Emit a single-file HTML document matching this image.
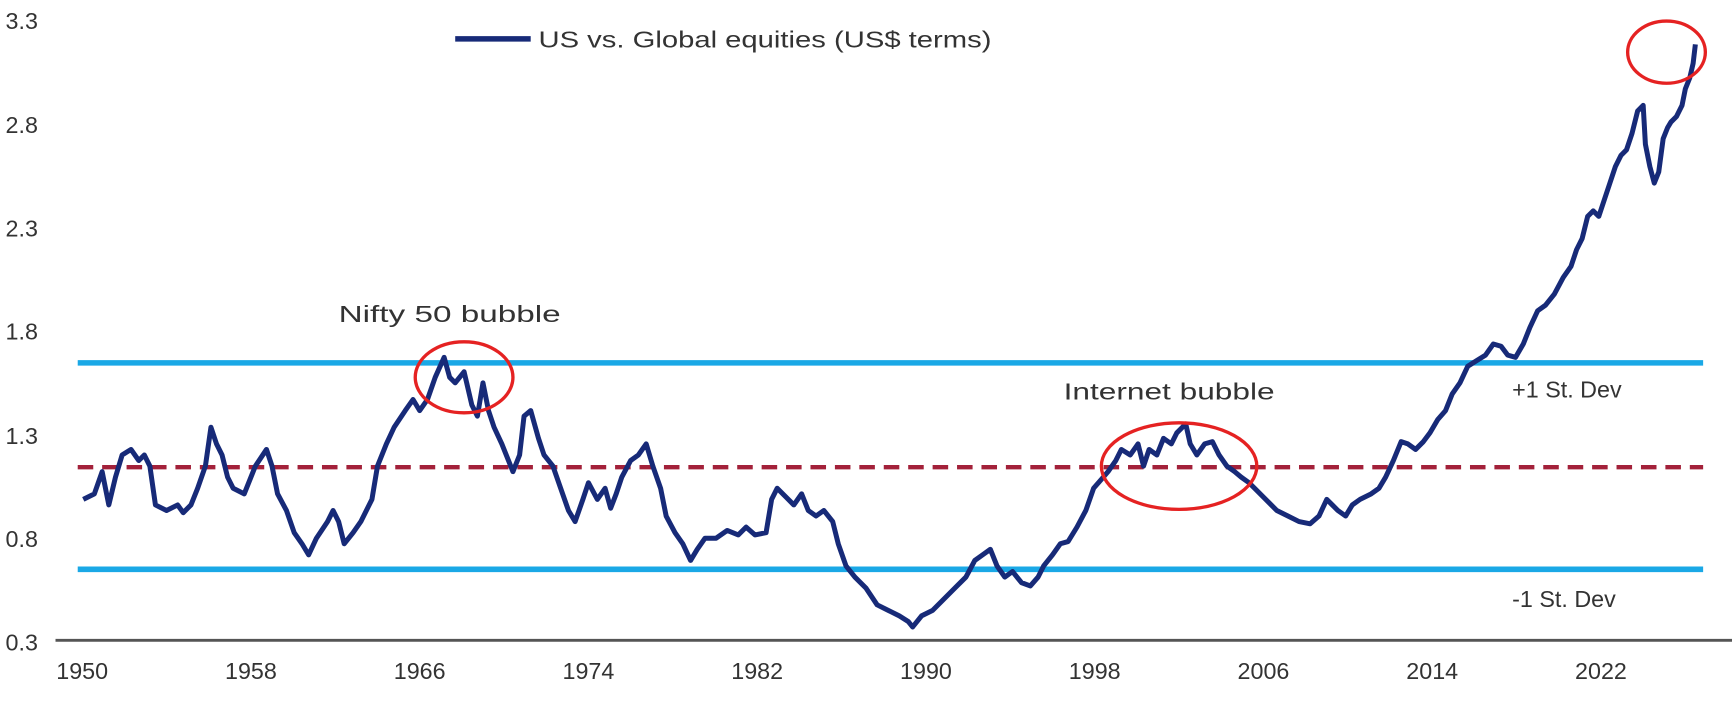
<!DOCTYPE html>
<html><head><meta charset="utf-8"><style>
html,body{margin:0;padding:0;background:#fff;}
svg{display:block;}
text{font-family:"Liberation Sans",sans-serif;fill:#333;}
</style></head><body>
<svg width="1732" height="718" viewBox="0 0 1560 647" preserveAspectRatio="none" xmlns="http://www.w3.org/2000/svg">
<rect width="1560" height="647" fill="#fff"/>
<g font-size="21" text-anchor="start">
<text x="5" y="26">3.3</text>
<text x="5" y="120">2.8</text>
<text x="5" y="213">2.3</text>
<text x="5" y="306">1.8</text>
<text x="5" y="400">1.3</text>
<text x="5" y="493">0.8</text>
<text x="5" y="586">0.3</text>
</g>
<line x1="50" y1="577" x2="1560" y2="577" stroke="#555" stroke-width="2.5"/>
<g font-size="21" text-anchor="middle">
<text x="74" y="612">1950</text>
<text x="226" y="612">1958</text>
<text x="378" y="612">1966</text>
<text x="530" y="612">1974</text>
<text x="682" y="612">1982</text>
<text x="834" y="612">1990</text>
<text x="986" y="612">1998</text>
<text x="1138" y="612">2006</text>
<text x="1290" y="612">2014</text>
<text x="1442" y="612">2022</text>
</g>
<line x1="70" y1="327" x2="1534" y2="327" stroke="#1aa8e6" stroke-width="5"/>
<line x1="70" y1="513" x2="1534" y2="513" stroke="#1aa8e6" stroke-width="5"/>
<line x1="70" y1="421" x2="1534" y2="421" stroke="#a3213a" stroke-width="4" stroke-dasharray="14,8"/>
<polyline fill="none" stroke="#172a78" stroke-width="4.5" stroke-linejoin="round" points="75,450 85,445 92,425 98,455 104,430 110,410 118,405 125,415 130,410 135,420 140,455 150,460 160,455 165,462 172,455 178,440 185,420 190,385 195,400 200,410 205,430 210,440 220,445 230,420 240,405 245,420 250,445 258,460 265,480 272,490 278,500 285,485 295,470 300,460 305,470 310,490 318,480 325,470 335,450 340,420 348,400 355,385 365,370 372,360 378,370 385,360 392,340 400,322 405,340 410,345 418,335 425,365 430,375 435,345 440,370 445,385 452,400 458,415 462,425 468,410 472,375 478,370 485,395 490,410 498,420 505,440 512,460 518,470 525,450 530,435 538,450 545,440 550,458 555,445 560,430 568,415 575,410 582,400 588,420 595,440 600,465 608,480 615,490 622,505 628,495 635,485 645,485 655,478 665,482 672,475 680,482 690,480 695,450 700,440 708,448 715,455 722,445 728,460 735,465 742,460 750,470 755,490 762,510 770,520 780,530 790,545 800,550 810,555 818,560 822,565 830,555 840,550 850,540 860,530 870,520 878,505 885,500 892,495 898,510 905,520 912,515 920,525 928,528 935,520 940,510 948,500 955,490 962,488 970,475 978,460 985,440 992,432 998,425 1005,415 1010,405 1018,410 1025,400 1030,420 1035,405 1042,410 1048,395 1055,400 1060,390 1068,382 1072,400 1078,410 1085,400 1092,398 1098,410 1105,420 1112,425 1118,430 1125,435 1130,440 1140,450 1150,460 1160,465 1170,470 1180,472 1188,465 1195,450 1200,455 1205,460 1212,465 1218,455 1225,450 1235,445 1242,440 1248,430 1255,415 1262,398 1268,400 1275,405 1282,398 1288,390 1295,378 1302,370 1308,355 1315,345 1322,330 1330,325 1338,320 1345,310 1352,312 1358,320 1365,322 1372,310 1378,295 1385,280 1392,275 1400,265 1408,250 1415,240 1420,225 1425,215 1430,195 1435,190 1440,195 1445,180 1450,165 1455,150 1460,140 1465,135 1470,120 1475,100 1480,95 1482,130 1486,150 1490,165 1494,155 1498,125 1502,115 1505,110 1510,105 1515,95 1518,80 1522,70 1525,57 1527,40"/>
<line x1="410" y1="35" x2="478" y2="35" stroke="#172a78" stroke-width="5"/>
<text x="485" y="43" font-size="21" textLength="408" lengthAdjust="spacingAndGlyphs">US vs. Global equities (US$ terms)</text>
<text x="305" y="290" font-size="21" textLength="200" lengthAdjust="spacingAndGlyphs">Nifty 50 bubble</text>
<text x="958" y="360" font-size="21" textLength="190" lengthAdjust="spacingAndGlyphs">Internet bubble</text>
<text x="1362" y="358" font-size="21">+1 St. Dev</text>
<text x="1362" y="547" font-size="21">-1 St. Dev</text>
<g fill="none" stroke="#e52222" stroke-width="3">
<ellipse cx="418" cy="340" rx="44" ry="32"/>
<ellipse cx="1062" cy="420" rx="70" ry="39"/>
<ellipse cx="1501" cy="47" rx="35" ry="28"/>
</g>
</svg>
</body></html>
